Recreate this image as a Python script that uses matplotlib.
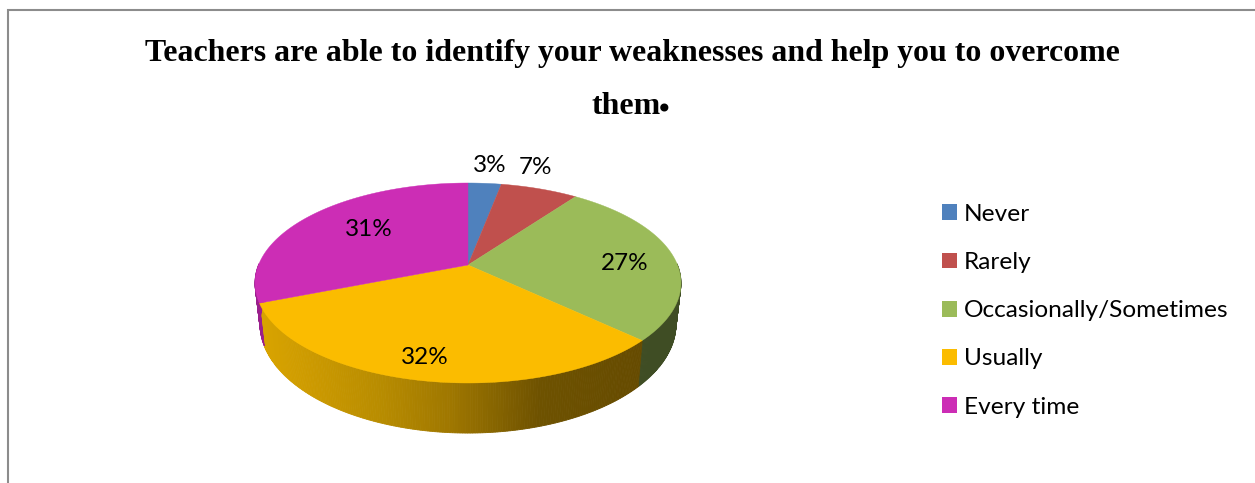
import numpy as np
import matplotlib
matplotlib.use('Agg')
import matplotlib.pyplot as plt
from matplotlib.patches import Patch
from matplotlib.colors import to_rgb

categories = ['Never', 'Rarely', 'Occasionally/Sometimes', 'Usually', 'Every time']
values = [3, 7, 27, 32, 31]
pct_labels = ['3%', '7%', '27%', '32%', '31%']
colors = ['#4f81bd', '#c0504d', '#9bbb59', '#fbbc00', '#cc2db5']
side_colors = [None, None, '#3f4d24', None, '#9a1f8c']
title_line1 = 'Teachers are able to identify your weaknesses and help you to overcome'
title_line2 = 'them'

# pozycje etykiet w pikselach
label_xy = [(490, 166), (536, 168), (625, 263), (425, 357), (369, 229)]

# gradient bocznej sciany (x piksela -> kolor)
grad_x = [258, 310, 380, 450, 540, 640]
grad_c = ['#d9a400', '#cc9a00', '#b88c00', '#9f7700', '#6e5200', '#664b00']
grad_rgb = np.array([to_rgb(c) for c in grad_c])

PERSP = 0.18
CX = 468


def project(theta, apex_y, a, k):
    # rzut perspektywiczny kola; theta liczone od gory zgodnie z zegarem
    u = np.sin(theta)
    v = np.cos(theta)
    w = 1 + PERSP * v
    return CX + k * u / w, apex_y - a * v / w


def top_rim(theta):
    return project(theta, 265, 96.76, 209.5)


def bottom_rim(theta):
    return project(theta, 304.4, 105.5, 204.6)


fig = plt.figure(figsize=(12.55, 4.83), dpi=100)
ax = fig.add_axes([0, 0, 1, 1])
ax.set_xlim(0, 1255)
ax.set_ylim(483, 0)
ax.axis('off')

# ramka
ax.plot([8, 8, 1255], [483, 10, 10], color='#8c8c8c', lw=1.5, solid_joinstyle='miter')

edges = np.cumsum([0] + values) / sum(values) * 2 * np.pi

# sciana boczna
for i in range(len(values)):
    th = np.linspace(edges[i], edges[i + 1], 200)
    th = th[np.cos(th) <= 0.02]
    for t0, t1 in zip(th[:-1], th[1:]):
        pair = np.array([t0, t1])
        xt, yt = top_rim(pair)
        xb, yb = bottom_rim(pair)
        if side_colors[i] is not None:
            c = side_colors[i]
        else:
            xm = xt.mean()
            c = [np.interp(xm, grad_x, grad_rgb[:, n]) for n in range(3)]
        ax.fill([xt[0], xt[1], xb[1], xb[0]], [yt[0], yt[1], yb[1], yb[0]],
                color=c, lw=0.6, zorder=2)

# gorna powierzchnia
for i in range(len(values)):
    th = np.linspace(edges[i], edges[i + 1], 120)
    xs, ys = top_rim(th)
    ax.fill(np.r_[CX, xs], np.r_[265, ys], color=colors[i], lw=0.3, zorder=3)

for lab, (x, y) in zip(pct_labels, label_xy):
    ax.text(x, y, lab, fontsize=17.5, family='Lato', ha='center', va='center',
            color='black', zorder=5)

# tytul
ax.text(632.5, 54, title_line1, fontsize=22.95, family='Liberation Serif', weight='bold',
        ha='center', va='center', color='black')
ax.text(591, 106, title_line2, fontsize=22.95, family='Liberation Serif', weight='bold',
        ha='left', va='center', color='black')
ax.text(658, 99, '.', fontsize=36, family='Liberation Serif', weight='bold',
        ha='left', va='center', color='black')

handles = [Patch(facecolor=c, edgecolor='none') for c in colors]
ax.legend(handles, categories, loc='upper left', bbox_to_anchor=(942 / 1255, 1 - 204 / 483),
          frameon=False, prop={'family': 'Lato', 'size': 17.6}, handlelength=0.62,
          handleheight=0.62, handletextpad=0.27, labelspacing=1.11, borderpad=0, borderaxespad=0)

plt.savefig('out.png', dpi=100)
plt.close()
